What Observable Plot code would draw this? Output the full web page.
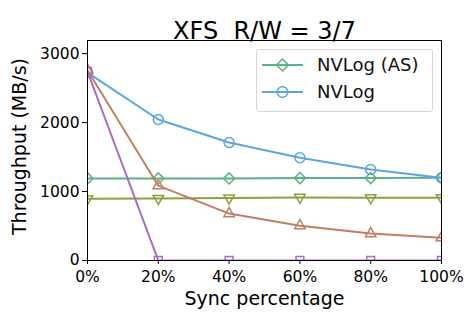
<!DOCTYPE html>
<html>
<head>
<meta charset="utf-8">
<script src="https://cdn.jsdelivr.net/npm/d3@7"></script>
<script src="https://cdn.jsdelivr.net/npm/@observablehq/plot@0.6"></script>
<style>
body{margin:0;background:#fff;font-family:"DejaVu Sans",sans-serif;}
#wrap{position:relative;width:475px;height:322px;}
#legend{position:absolute;left:256px;top:49px;width:175px;height:61px;border:1px solid #d6d6d6;border-radius:3px;background:rgba(255,255,255,0.8);font-size:18px;color:#111;}
.row{position:absolute;left:5px;display:flex;align-items:center;}
.row svg{margin-right:14px;}
</style>
</head>
<body>
<div id="wrap"><div id="chart"></div><div id="legend"></div></div>
<script>
const syncPct = [0, 20, 40, 60, 80, 100];
const nvlogAS = [1190, 1190, 1190, 1195, 1195, 1200];
const nvlog = [2725, 2045, 1710, 1490, 1320, 1200];
const olive = [895, 900, 905, 915, 910, 910];
const brown = [2760, 1085, 680, 505, 390, 330];
const purple = [2740, 0, 0, 0, 0, 0];
const yTicks = [0, 1000, 2000, 3000];

const series = [
  {name: "NVLog (AS)", values: nvlogAS, color: "#5daf88", symbol: "diamond2", rotate: 0, legend: true},
  {name: "NVLog", values: nvlog, color: "#5ba6dd", symbol: "circle", rotate: 0, legend: true},
  {name: "S3", values: olive, color: "#8ca03f", symbol: "triangle2", rotate: 180, legend: false},
  {name: "S4", values: brown, color: "#c17f62", symbol: "triangle2", rotate: 0, legend: false},
  {name: "S5", values: purple, color: "#a86dc0", symbol: "square2", rotate: 0, legend: false}
];
const data = series.flatMap(s => syncPct.map((x, i) => ({x, y: s.values[i], name: s.name})));

const marks = [];
series.forEach(s => {
  const d = data.filter(r => r.name === s.name);
  marks.push(Plot.line(d, {x: "x", y: "y", stroke: s.color, strokeWidth: 2, clip: true}));
  marks.push(Plot.dot(d, {x: "x", y: "y", stroke: s.color, fill: "none", symbol: s.symbol, r: 5, strokeWidth: 1.5, rotate: s.rotate, clip: true}));
});

const chart = Plot.plot({
  width: 475, height: 322,
  marginLeft: 87, marginRight: 34, marginTop: 40, marginBottom: 62,
  style: {fontFamily: "DejaVu Sans, sans-serif", background: "#fff", color: "#000"},
  x: {domain: [0, 100], label: null},
  y: {domain: [0, 3190], label: null},
  marks: [
    ...marks,
    Plot.frame({stroke: "#000", strokeWidth: 1}),
    Plot.axisX(syncPct, {tickSize: 4, fontSize: 15.5, tickFormat: d => d + "%", tickPadding: 6, label: null}),
    Plot.axisY(yTicks, {tickSize: 5, fontSize: 15.5, tickFormat: d3.format("d"), tickPadding: 3, label: null}),
    Plot.text(["Sync percentage"], {frameAnchor: "bottom", dy: 44, fontSize: 19, text: d => d}),
    Plot.text(["Throughput (MB/s)"], {frameAnchor: "left", dx: -68, dy: -4, rotate: -90, textAnchor: "middle", fontSize: 19, text: d => d}),
    Plot.text(["XFS  R/W = 3/7"], {frameAnchor: "top", dy: -19, fontSize: 24, text: d => d})
  ]
});
document.getElementById("chart").appendChild(chart);

const sym = {diamond2: d3.symbolDiamond2, circle: d3.symbolCircle};
const lg = document.getElementById("legend");
series.filter(s => s.legend).forEach((s, i) => {
  const row = document.createElement("div");
  row.className = "row";
  row.style.top = (4 + i * 27) + "px";
  const p = d3.symbol(sym[s.symbol], 90)();
  row.innerHTML = `<svg width="41" height="20"><line x1="0" x2="41" y1="10" y2="10" stroke="${s.color}" stroke-width="2"/><path d="${p}" transform="translate(20.5,10)" fill="none" stroke="${s.color}" stroke-width="1.5"/></svg><span>${s.name}</span>`;
  lg.appendChild(row);
});
</script>
</body>
</html>
